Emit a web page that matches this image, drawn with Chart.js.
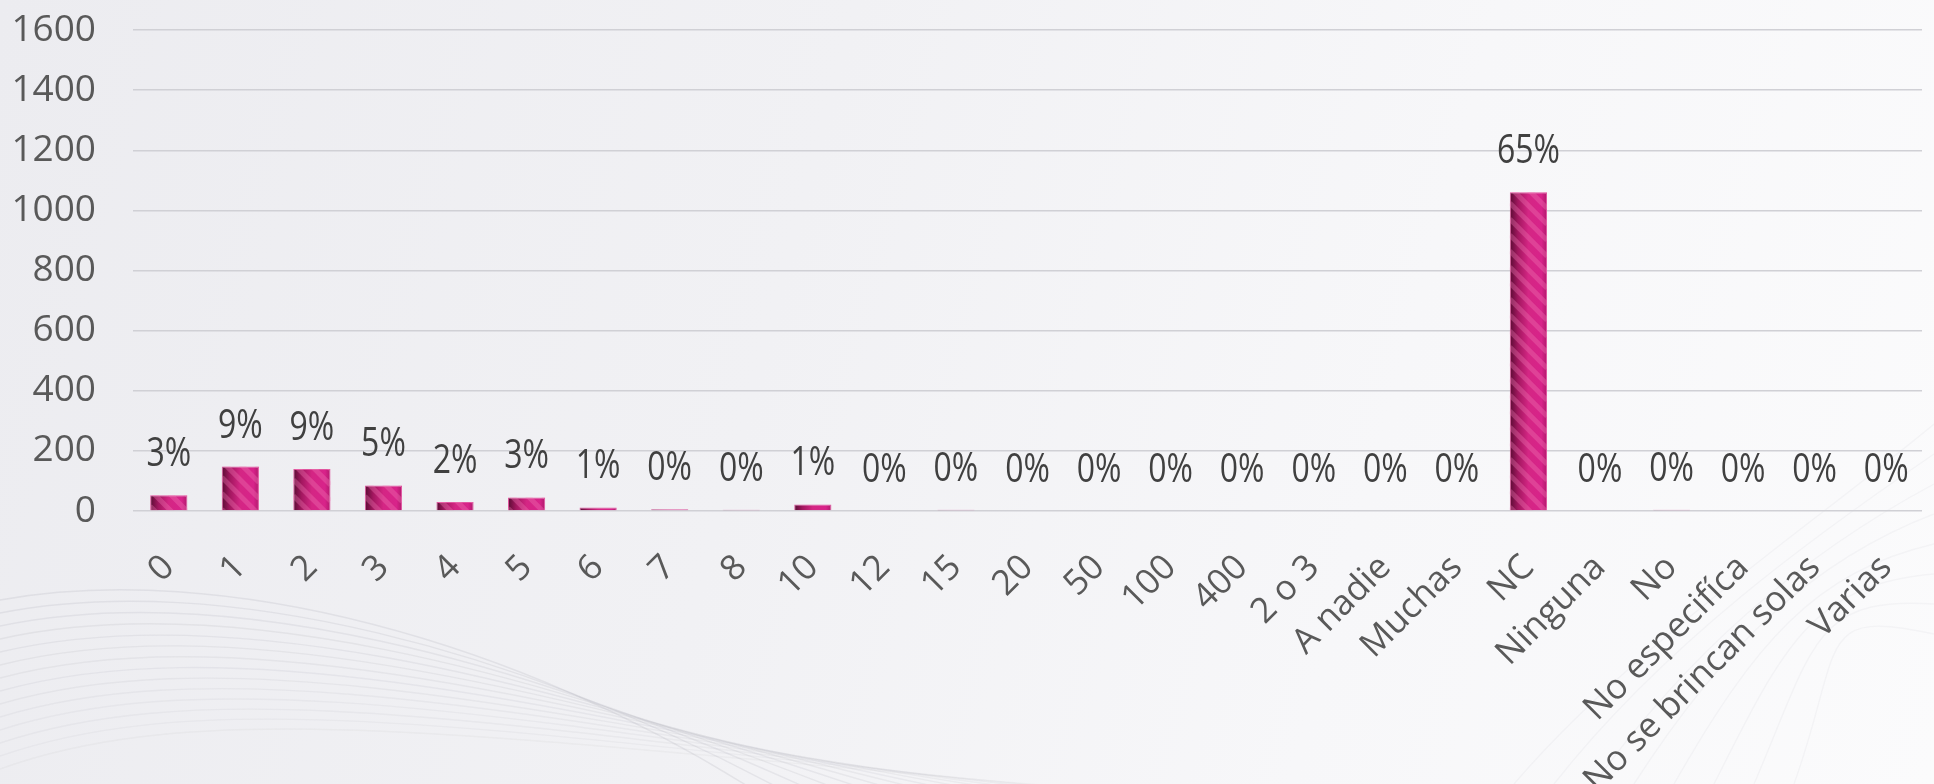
<!DOCTYPE html>
<html lang="es">
<head>
  <meta charset="UTF-8">
  <title>Gráfica de respuestas</title>
  <style>
    html, body {
      margin: 0;
      padding: 0;
      overflow: hidden;
    }
    body {
      width: 1934px;
      height: 784px;
      background: linear-gradient(105deg, #ececf0 0%, #f1f1f4 40%, #f7f7f9 70%, #fbfbfc 100%);
    }
    .chart-container {
      position: relative;
      width: 1934px;
      height: 784px;
    }
  </style>
</head>
<body>
  <div class="chart-container">
    <canvas id="respuestasChart"></canvas>
  </div>
  <script src="https://cdn.jsdelivr.net/npm/chart.js"></script>
  <script>
    // Datos
    const categorias = ['0', '1', '2', '3', '4', '5', '6', '7', '8', '10', '12', '15', '20', '50', '100', '400',
      '2 o 3', 'A nadie', 'Muchas', 'NC', 'Ninguna', 'No', 'No especifíca', 'No se brincan solas', 'Varias'];
    const valores = [52, 148, 140, 85, 30, 45, 12, 6, 4, 22, 0, 4, 0, 0, 0, 0,
      0, 0, 0, 1060, 0, 4, 0, 0, 0];
    const porcentajes = ['3%', '9%', '9%', '5%', '2%', '3%', '1%', '0%', '0%', '1%', '0%', '0%', '0%', '0%', '0%', '0%',
      '0%', '0%', '0%', '65%', '0%', '0%', '0%', '0%', '0%'];
    const yTicks = [0, 200, 400, 600, 800, 1000, 1200, 1400, 1600];

    const BAR_PCT = 0.52;

    // Relleno de las barras: degradado horizontal oscuro -> magenta
    function rellenoBarra(context) {
      const chart = context.chart;
      const { ctx, chartArea, scales } = chart;
      if (!chartArea || !scales.x) return '#c81d7a';
      const x = scales.x.getPixelForValue(context.dataIndex);
      const half = scales.x.width / categorias.length * BAR_PCT / 2;
      const g = ctx.createLinearGradient(x - half, 0, x + half, 0);
      g.addColorStop(0, '#5a0d34');
      g.addColorStop(0.22, '#a2175f');
      g.addColorStop(0.5, '#d42684');
      g.addColorStop(0.85, '#d8238a');
      g.addColorStop(1, '#b01a6c');
      return g;
    }

    // Fondo con lineas onduladas suaves
    const fondoPlugin = {
      id: 'fondo',
      beforeDraw(chart) {
        const { ctx, width, height } = chart;
        ctx.save();
        ctx.lineWidth = 1.4;
        for (let k = 0; k < 14; k++) {
          ctx.strokeStyle = 'rgba(150,150,162,' + (0.16 - k * 0.007) + ')';
          ctx.beginPath();
          ctx.moveTo(0, 600 + k * 13);
          ctx.bezierCurveTo(220, 560 + k * 10, 520, 640 + k * 8, 760 + k * 30, height + 10);
          ctx.stroke();
        }
        for (let k = 0; k < 8; k++) {
          ctx.strokeStyle = 'rgba(170,170,180,0.08)';
          ctx.beginPath();
          ctx.moveTo(width - 420 + k * 40, height);
          ctx.bezierCurveTo(width - 300 + k * 30, height - 140, width - 120, height - 260 + k * 12, width, height - 360 + k * 30);
          ctx.stroke();
        }
        ctx.restore();
      }
    };

    // Franjas diagonales y etiquetas de porcentaje
    const etiquetasPlugin = {
      id: 'etiquetas',
      afterDatasetsDraw(chart) {
        const { ctx } = chart;
        const meta = chart.getDatasetMeta(0);
        ctx.save();
        meta.data.forEach(bar => {
          const h = bar.base - bar.y;
          if (h < 6) return;
          const left = bar.x - bar.width / 2;
          ctx.save();
          ctx.beginPath();
          ctx.rect(left, bar.y, bar.width, h);
          ctx.clip();
          ctx.strokeStyle = 'rgba(240,120,180,0.35)';
          ctx.lineWidth = 5;
          for (let yy = bar.y - bar.width; yy < bar.base; yy += 16) {
            ctx.beginPath();
            ctx.moveTo(left, yy);
            ctx.lineTo(left + bar.width, yy + bar.width);
            ctx.stroke();
          }
          ctx.restore();
        });
        ctx.fillStyle = '#404040';
        ctx.font = '41px "Open Sans"';
        ctx.textAlign = 'center';
        ctx.textBaseline = 'alphabetic';
        meta.data.forEach((bar, i) => {
          ctx.save();
          ctx.translate(bar.x, bar.y - 29);
          ctx.scale(0.78, 1);
          ctx.fillText(porcentajes[i], 0, 0);
          ctx.restore();
        });
        ctx.restore();
      }
    };

    const ctx = document.getElementById('respuestasChart').getContext('2d');
    new Chart(ctx, {
      type: 'bar',
      data: {
        labels: categorias,
        datasets: [{
          data: valores,
          backgroundColor: rellenoBarra,
          borderColor: '#e0559f',
          borderWidth: c => (valores[c.dataIndex] > 0 ? 1 : 0),
          categoryPercentage: 1,
          barPercentage: BAR_PCT,
        }],
      },
      options: {
        responsive: true,
        maintainAspectRatio: false,
        animation: false,
        layout: { padding: { top: 30, right: 12, left: 0, bottom: 0 } },
        plugins: {
          legend: { display: false },
          tooltip: { enabled: false },
        },
        scales: {
          x: {
            grid: { display: false },
            border: { display: false },
            ticks: {
              color: '#595959',
              font: { family: 'Open Sans', size: 35 },
              maxRotation: 45,
              minRotation: 45,
              autoSkip: false,
              padding: 28,
            },
            afterFit(scale) {
              scale.height = 273;
              scale.paddingLeft = 0;
              scale.paddingRight = 0;
            },
          },
          y: {
            min: yTicks[0],
            max: yTicks[yTicks.length - 1],
            ticks: {
              stepSize: yTicks[1] - yTicks[0],
              color: '#595959',
              font: { family: 'Open Sans', size: 37 },
              padding: 37,
              callback: v => String(v),
            },
            grid: { color: '#d0d0d5', lineWidth: 1.5, drawTicks: false },
            border: { display: false },
            afterFit(scale) {
              scale.width = 133;
              scale.paddingTop = 0;
              scale.paddingBottom = 0;
            },
          },
        },
      },
      plugins: [fondoPlugin, etiquetasPlugin],
    });
  </script>
</body>
</html>
